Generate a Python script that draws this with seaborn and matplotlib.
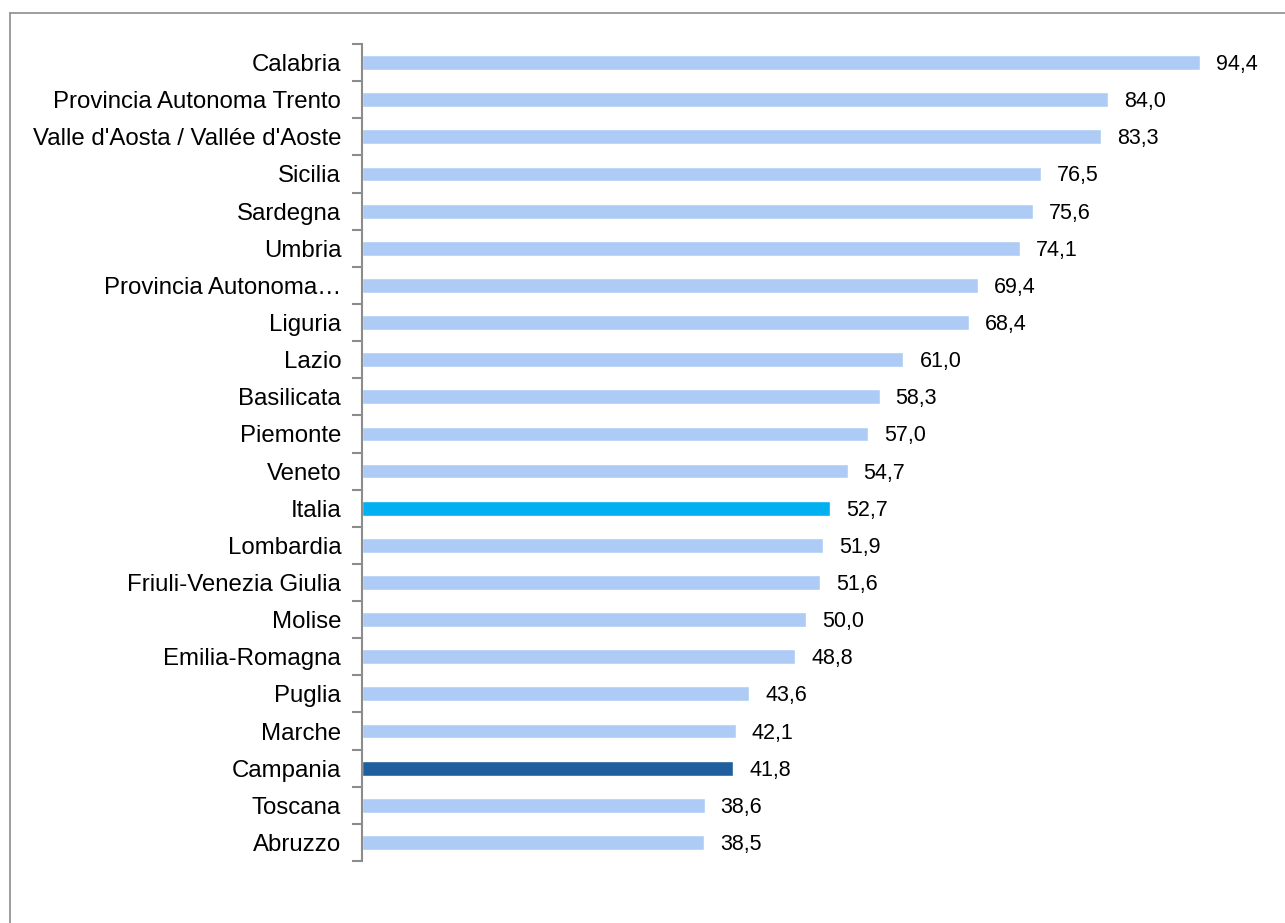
import matplotlib.pyplot as plt
import seaborn as sns
from matplotlib.lines import Line2D

regions = [
    "Calabria", "Provincia Autonoma Trento", "Valle d'Aosta / Vallée d'Aoste",
    "Sicilia", "Sardegna", "Umbria", "Provincia Autonoma…", "Liguria", "Lazio",
    "Basilicata", "Piemonte", "Veneto", "Italia", "Lombardia",
    "Friuli-Venezia Giulia", "Molise", "Emilia-Romagna", "Puglia", "Marche",
    "Campania", "Toscana", "Abruzzo",
]
values = [94.4, 84.0, 83.3, 76.5, 75.6, 74.1, 69.4, 68.4, 61.0, 58.3, 57.0, 54.7,
          52.7, 51.9, 51.6, 50.0, 48.8, 43.6, 42.1, 41.8, 38.6, 38.5]

light = "#aecbf6"
highlight = {"Italia": "#00b0f0", "Campania": "#1f5f9e"}
palette = {r: highlight.get(r, light) for r in regions}

sns.set_theme(style="white")
plt.rcParams["font.family"] = ["Liberation Sans", "DejaVu Sans"]

fig = plt.figure(figsize=(12.85, 9.23), dpi=100)
ax = fig.add_axes([0.2817, 0.0672, 0.7, 0.8851])

sns.barplot(x=values, y=regions, hue=regions, palette=palette, legend=False,
            width=0.4, orient="h", ax=ax, saturation=1)

ax.set_xlim(0, 100 * 0.7 * 1285 / 887.7)
ax.set_ylim(len(regions) - 0.5, -0.5)
for s in ["top", "right", "bottom"]:
    ax.spines[s].set_visible(False)
ax.spines["left"].set_color("#8c8c8c")
ax.spines["left"].set_linewidth(1.5)
ax.set_xticks([])
ax.set_xlabel("")
ax.set_ylabel("")

ax.tick_params(axis="y", which="major", length=0, pad=15, labelsize=17.3,
               labelcolor="black")
ax.set_yticks(range(len(regions)), regions)
ax.set_yticks([i - 0.5 for i in range(len(regions) + 1)], minor=True)
ax.tick_params(axis="y", which="minor", left=True, length=7, width=1.5,
               color="#8c8c8c", direction="out")

for i, v in enumerate(values):
    ax.annotate(f"{v:.1f}".replace(".", ","), (v, i), xytext=(16, -2),
                textcoords="offset pixels", va="center", ha="left",
                fontsize=15.5, color="black")

# outer frame of the chart area
fig.add_artist(Line2D([10 / 1285, 10 / 1285], [0, 1 - 13 / 923],
                      transform=fig.transFigure, color="#8c8c8c", lw=1.2))
fig.add_artist(Line2D([10 / 1285, 1], [1 - 13 / 923, 1 - 13 / 923],
                      transform=fig.transFigure, color="#8c8c8c", lw=1.2))

fig.savefig("out.png", dpi=100)
